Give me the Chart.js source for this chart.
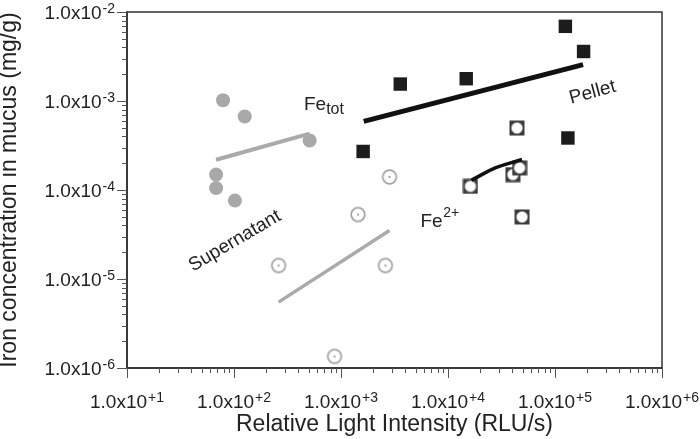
<!DOCTYPE html>
<html>
<head>
<meta charset="utf-8">
<script src="https://cdn.jsdelivr.net/npm/chart.js@4"></script>
<style>
  html, body { margin: 0; padding: 0; background: #fff; }
  #wrap { width: 700px; height: 439px; }
</style>
</head>
<body>
<div id="wrap"><canvas id="c" width="700" height="439"></canvas></div>
<script>
// ---- data ----
const xTickValues = [1e1, 1e2, 1e3, 1e4, 1e5, 1e6];
const xTickLabels = ['1.0x10^+1', '1.0x10^+2', '1.0x10^+3', '1.0x10^+4', '1.0x10^+5', '1.0x10^+6'];
const yTickValues = [1e-6, 1e-5, 1e-4, 1e-3, 1e-2];
const yTickLabels = ['1.0x10^-6', '1.0x10^-5', '1.0x10^-4', '1.0x10^-3', '1.0x10^-2'];

// Supernatant, Fe_tot (grey filled circles)
const supFetotX = [79, 126, 509, 68, 68, 102];
const supFetotY = [1.02e-3, 6.7e-4, 3.6e-4, 1.49e-4, 1.05e-4, 7.6e-5];
const supFetotFitX = [68, 509];
const supFetotFitY = [2.19e-4, 4.3e-4];

// Supernatant, Fe2+ (grey open circles)
const supFe2X = [2840, 1440, 261, 2600, 870];
const supFe2Y = [1.4e-4, 5.3e-5, 1.42e-5, 1.42e-5, 1.35e-6];
const supFe2FitX = [261, 2840];
const supFe2FitY = [5.5e-6, 3.5e-5];

// Pellet, Fe_tot (black squares)
const pelFetotX = [3580, 1610, 14800, 125000, 185000, 132000];
const pelFetotY = [1.55e-3, 2.71e-4, 1.78e-3, 6.9e-3, 3.6e-3, 3.84e-4];
const pelFetotFitX = [1630, 183000];
const pelFetotFitY = [5.9e-4, 2.56e-3];

// Pellet, Fe2+ (open squares)
const pelFe2X = [44100, 16200, 40400, 46700, 49200];
const pelFe2Y = [4.97e-4, 1.1e-4, 1.49e-4, 1.77e-4, 4.98e-5];
const pelFe2FitX = [16600, 28000, 49200];
const pelFe2FitY = [1.29e-4, 1.78e-4, 2.2e-4];

const FONT = '"Liberation Sans", Arial, Helvetica, sans-serif';
const TXT = '#222';

function pts(xs, ys) { return xs.map((x, i) => ({ x: x, y: ys[i] })); }

// custom marker images
function openCircle() {
  const c = document.createElement('canvas'); c.width = 18; c.height = 18;
  const g = c.getContext('2d');
  g.beginPath(); g.arc(9, 9, 6.8, 0, Math.PI * 2);
  g.fillStyle = '#fff'; g.fill();
  g.lineWidth = 1.7; g.strokeStyle = '#a2a2a2'; g.stroke();
  g.beginPath(); g.arc(9, 9, 1.0, 0, Math.PI * 2);
  g.fillStyle = '#8a8a8a'; g.fill();
  return c;
}
function openSquare() {
  const c = document.createElement('canvas'); c.width = 16; c.height = 16;
  const g = c.getContext('2d');
  g.fillStyle = '#3c3c3c'; g.fillRect(0.5, 0.5, 15, 15);
  g.beginPath(); g.arc(8, 8, 5.6, 0, Math.PI * 2);
  g.fillStyle = '#fff'; g.fill();
  g.lineWidth = 0.8; g.strokeStyle = '#999'; g.stroke();
  return c;
}

const frameAndLabels = {
  id: 'frameAndLabels',
  afterDraw(chart) {
    const ctx = chart.ctx;
    const xs = chart.scales.x, ys = chart.scales.y;
    const a = chart.chartArea;
    ctx.save();
    // frame
    ctx.strokeStyle = '#333';
    ctx.lineWidth = 1.5;
    ctx.beginPath();
    ctx.moveTo(a.left, a.top); ctx.lineTo(a.right, a.top); ctx.lineTo(a.right, a.bottom);
    ctx.stroke();
    ctx.lineWidth = 2;
    ctx.strokeStyle = '#3a3a3a';
    ctx.beginPath();
    ctx.moveTo(a.left, a.top - 0.75); ctx.lineTo(a.left, a.bottom); ctx.lineTo(a.right + 0.75, a.bottom);
    ctx.stroke();
    // ticks
    ctx.lineWidth = 1;
    ctx.strokeStyle = '#555';
    ctx.beginPath();
    for (let i = 0; i < xTickValues.length; i++) {
      const v = xTickValues[i];
      const px = Math.round(xs.getPixelForValue(v)) + 0.5;
      ctx.moveTo(px, a.bottom); ctx.lineTo(px, a.bottom + 10);
      if (i < xTickValues.length - 1) {
        for (let m = 2; m <= 9; m++) {
          const mx = Math.round(xs.getPixelForValue(v * m)) + 0.5;
          ctx.moveTo(mx, a.bottom); ctx.lineTo(mx, a.bottom + 5);
        }
      }
    }
    for (let i = 0; i < yTickValues.length; i++) {
      const v = yTickValues[i];
      const py = Math.round(ys.getPixelForValue(v)) + 0.5;
      ctx.moveTo(a.left, py); ctx.lineTo(a.left - 10, py);
      if (i < yTickValues.length - 1) {
        for (let m = 2; m <= 9; m++) {
          const my = Math.round(ys.getPixelForValue(v * m)) + 0.5;
          ctx.moveTo(a.left, my); ctx.lineTo(a.left - 5, my);
        }
      }
    }
    ctx.stroke();

    // tick labels with superscripts
    ctx.fillStyle = TXT;
    ctx.textBaseline = 'alphabetic';
    const baseFont = '19px ' + FONT, supFont = '14px ' + FONT;
    xTickValues.forEach((v, i) => {
      const [b, s] = xTickLabels[i].split('^');
      ctx.font = baseFont; const wb = ctx.measureText(b).width;
      ctx.font = supFont; const wsup = ctx.measureText(s).width;
      const px = xs.getPixelForValue(v);
      const start = px - (wb + wsup + 1) / 2;
      ctx.textAlign = 'left';
      ctx.font = baseFont; ctx.fillText(b, start, a.bottom + 40);
      ctx.font = supFont; ctx.fillText(s, start + wb + 1, a.bottom + 33.5);
    });
    yTickValues.forEach((v, i) => {
      const [b, s] = yTickLabels[i].split('^');
      ctx.font = baseFont; const wb = ctx.measureText(b).width;
      ctx.font = supFont; const wsup = ctx.measureText(s).width;
      const py = ys.getPixelForValue(v);
      const right = a.left - 12;
      ctx.textAlign = 'left';
      ctx.font = supFont; ctx.fillText(s, right - wsup, py + 0.5);
      ctx.font = baseFont; ctx.fillText(b, right - wsup - 1 - wb, py + 6.8);
    });
    ctx.restore();
  },
  afterDatasetsDraw(chart) {
    const ctx = chart.ctx;
    ctx.save();
    ctx.fillStyle = TXT;
    ctx.textBaseline = 'alphabetic';
    ctx.textAlign = 'left';
    // Fe_tot
    ctx.font = '19px ' + FONT;
    ctx.fillText('Fe', 304, 110);
    let w = ctx.measureText('Fe').width;
    ctx.font = '16px ' + FONT;
    ctx.fillText('tot', 304 + w, 114);
    // Fe2+
    ctx.font = '19px ' + FONT;
    ctx.fillText('Fe', 420.5, 226.5);
    w = ctx.measureText('Fe').width;
    ctx.font = '14px ' + FONT;
    ctx.fillText('2+', 420.5 + w + 0.5, 217);
    // rotated labels
    ctx.font = '19px ' + FONT;
    ctx.textAlign = 'center';
    ctx.textBaseline = 'middle';
    ctx.save();
    ctx.translate(592.5, 92.5); ctx.rotate(-15 * Math.PI / 180);
    ctx.fillText('Pellet', 0, 0);
    ctx.restore();
    ctx.save();
    ctx.translate(235, 241); ctx.rotate(-30.5 * Math.PI / 180);
    ctx.fillText('Supernatant', 0, 0);
    ctx.restore();
    ctx.restore();
  }
};

const lineDs = (data, color, width, tension) => ({
  data: data, showLine: true, borderColor: color, borderWidth: width,
  pointRadius: 0, pointHoverRadius: 0, tension: tension || 0, borderCapStyle: 'butt', fill: false, order: 0
});

new Chart(document.getElementById('c'), {
  type: 'scatter',
  data: {
    datasets: [
      lineDs(pts(supFetotFitX, supFetotFitY), '#aaaaaa', 4),
      lineDs(pts(supFe2FitX, supFe2FitY), '#aaaaaa', 3.5),
      lineDs(pts(pelFetotFitX, pelFetotFitY), '#111111', 5),
      lineDs(pts(pelFe2FitX, pelFe2FitY), '#111111', 3.5, 0.4),
      { data: pts(supFetotX, supFetotY), pointStyle: 'circle', pointRadius: 7, backgroundColor: '#a8a8a8', borderWidth: 0, order: 1 },
      { data: pts(supFe2X, supFe2Y), pointStyle: openCircle(), order: 1 },
      { data: pts(pelFetotX, pelFetotY), pointStyle: 'rect', pointRadius: 9.5, backgroundColor: '#1c1c1c', borderWidth: 0, order: 1 },
      { data: pts(pelFe2X, pelFe2Y), pointStyle: openSquare(), order: 1 }
    ]
  },
  options: {
    responsive: false,
    animation: false,
    events: [],
    layout: { padding: { top: 12, right: 38, left: 0, bottom: 0 } },
    plugins: { legend: { display: false }, tooltip: { enabled: false } },
    scales: {
      x: {
        type: 'logarithmic', min: 10, max: 1e6,
        grid: { display: false }, border: { display: false },
        ticks: { display: false },
        title: { display: true, text: 'Relative Light Intensity (RLU/s)', color: TXT,
                 font: { family: FONT, size: 23, lineHeight: 1 }, padding: { top: 0, bottom: 3 } },
        afterFit(s) { s.height = 71; }
      },
      y: {
        type: 'logarithmic', min: 1e-6, max: 1e-2,
        grid: { display: false }, border: { display: false },
        ticks: { display: false },
        title: { display: true, text: 'Iron concentration in mucus (mg/g)', color: TXT,
                 font: { family: FONT, size: 23, lineHeight: 0.8 }, padding: { top: 0, bottom: 0 } },
        afterFit(s) { s.width = 127; }
      }
    }
  },
  plugins: [frameAndLabels]
});
</script>
</body>
</html>
